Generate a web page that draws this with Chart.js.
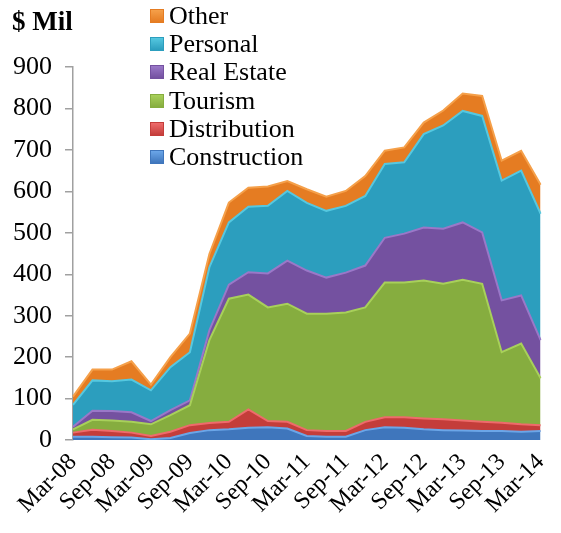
<!DOCTYPE html>
<html>
<head>
<meta charset="utf-8">
<script src="https://cdn.jsdelivr.net/npm/chart.js@4.4.1/dist/chart.umd.min.js"></script>
<style>
    html, body { margin: 0; padding: 0; background: #fff; }
    #wrap { position: relative; width: 561px; height: 533px; font-family: "Liberation Serif", "Times New Roman", serif; color: #000; }
    #unit { position: absolute; left: 12px; top: 6px; font-size: 27px; font-weight: bold; line-height: 30px; }
    #legend { position: absolute; left: 150px; top: 2px; font-size: 26px; line-height: 28.2px; }
    #legend div { white-space: nowrap; }
    #legend span.box { display: inline-block; width: 14px; height: 14px; margin-right: 5px; vertical-align: 1px; box-sizing: border-box; }
</style>
</head>
<body>
<div id="wrap">
    <canvas id="chart" width="561" height="533"></canvas>
    <div id="unit">$ Mil</div>
    <div id="legend"></div>
</div>
<script>
const quarters = ['Mar-08','Jun-08','Sep-08','Dec-08','Mar-09','Jun-09','Sep-09','Dec-09',
    'Mar-10','Jun-10','Sep-10','Dec-10','Mar-11','Jun-11','Sep-11','Dec-11',
    'Mar-12','Jun-12','Sep-12','Dec-12','Mar-13','Jun-13','Sep-13','Dec-13','Mar-14'];

const construction = [8,8,7,6,2,5,17,24,26,30,31,28,10,8,8,24,31,30,26,24,23,22,22,20,22];
const distribution = [10,17,15,12,8,15,19,17,18,44,15,16,14,14,14,20,24,25,26,26,24,22,20,18,14];
const tourism = [8,24,25,26,28,40,48,200,297,277,274,285,281,283,286,276,325,325,333,327,340,333,170,195,113];
const realEstate = [6,22,23,23,8,12,12,24,34,54,82,104,104,87,96,101,108,118,128,133,138,124,125,116,92];
const personal = [53,73,72,79,74,104,116,152,150,158,163,168,163,161,161,168,178,172,225,249,269,281,289,301,305];
const other = [20,26,28,44,14,24,45,32,48,46,47,24,33,34,36,48,32,36,28,36,42,48,48,48,70];

const yTicks = [0,100,200,300,400,500,600,700,800,900];

// 从下往上堆叠
const series = [
    { label: 'Construction', data: construction, fill: '#3F76BC', edge: '#6BA6E8' },
    { label: 'Distribution', data: distribution, fill: '#C43D3A', edge: '#EE6B6B' },
    { label: 'Tourism', data: tourism, fill: '#86AD3F', edge: '#A8D05A' },
    { label: 'Real Estate', data: realEstate, fill: '#7451A0', edge: '#9A78C8' },
    { label: 'Personal', data: personal, fill: '#2C9EBE', edge: '#55C8E0' },
    { label: 'Other', data: other, fill: '#E57C22', edge: '#F5A04A' }
];

// 图例 (倒序)
const legendDiv = document.getElementById('legend');
series.slice().reverse().forEach(s => {
    const row = document.createElement('div');
    row.innerHTML = `<span class="box" style="background: linear-gradient(${s.edge}, ${s.fill}); border: 1px solid ${s.fill};"></span>${s.label}`;
    legendDiv.appendChild(row);
});

const serif = '"Liberation Serif", "Times New Roman", serif';

new Chart(document.getElementById('chart'), {
    type: 'line',
    data: {
        labels: quarters,
        datasets: series.map((s, i) => ({
            label: s.label,
            data: s.data,
            backgroundColor: s.fill,
            borderColor: s.edge,
            borderWidth: 2,
            pointRadius: 0,
            tension: 0,
            fill: i === 0 ? 'origin' : '-1'
        }))
    },
    options: {
        responsive: false,
        animation: false,
        layout: { padding: { left: 0, right: 4, top: 67, bottom: 14 } },
        plugins: { legend: { display: false }, tooltip: { enabled: false } },
        scales: {
            x: {
                offset: false,
                grid: { display: false },
                border: { display: false },
                ticks: {
                    autoSkip: false,
                    maxRotation: 45,
                    minRotation: 45,
                    padding: 0,
                    color: '#000',
                    font: { family: serif, size: 24 },
                    callback: function(value, index) {
                        return index % 2 === 0 ? quarters[index] : null;
                    }
                }
            },
            y: {
                stacked: true,
                min: 0,
                max: 900,
                afterBuildTicks: axis => { axis.ticks = yTicks.map(v => ({ value: v })); },
                grid: { drawOnChartArea: false, color: '#A0A0A0', tickLength: 8, lineWidth: 1.5 },
                border: { color: '#A0A0A0', width: 1.5 },
                ticks: {
                    padding: 13,
                    color: '#000',
                    font: { family: serif, size: 26 }
                }
            }
        }
    }
});
</script>
</body>
</html>
